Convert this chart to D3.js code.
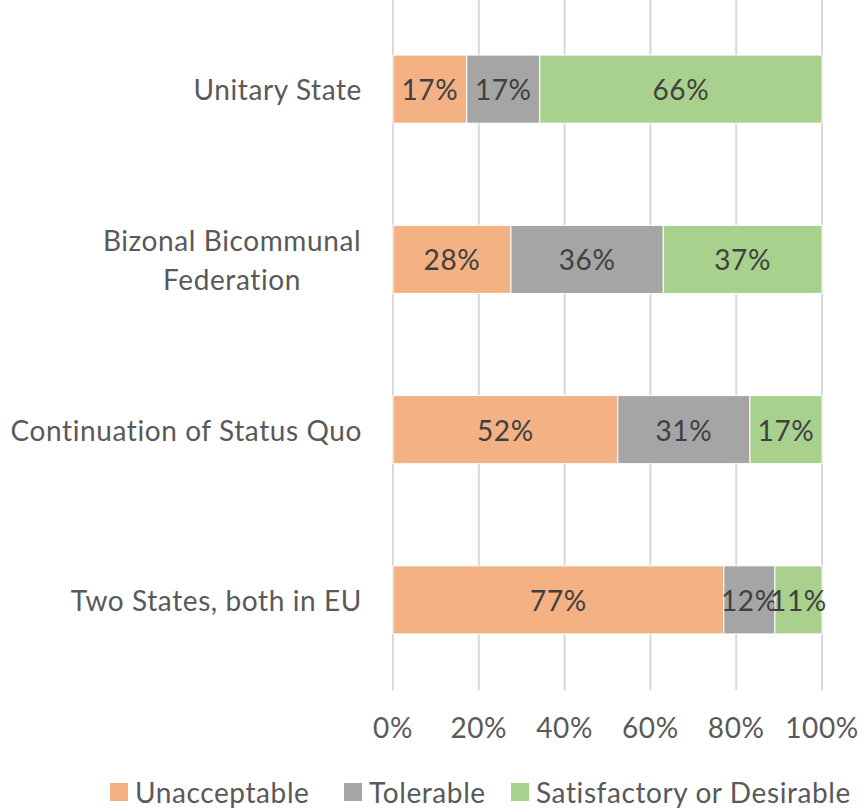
<!DOCTYPE html>
<html><head><meta charset="utf-8">
<script src="https://cdn.jsdelivr.net/npm/d3@7"></script>
<style>body{margin:0;background:#fff}svg{display:block}text{font-family:Lato,"Open Sans",sans-serif;letter-spacing:0.6px}</style>
</head><body>
<svg id="c" width="862" height="808"></svg>
<script>
const categories = ["Unitary State", "Bizonal Bicommunal Federation", "Continuation of Status Quo", "Two States, both in EU"];
const categoryLines = [["Unitary State"], ["Bizonal Bicommunal", "Federation"], ["Continuation of Status Quo"], ["Two States, both in EU"]];
const seriesNames = ["Unacceptable", "Tolerable", "Satisfactory or Desirable"];
const unacceptable = [17.2, 27.5, 52.4, 77.2];
const tolerable = [17.0, 35.5, 30.8, 11.9];
const satisfactory = [65.8, 37.0, 16.8, 11.0];
const labelsUnacceptable = ["17%", "28%", "52%", "77%"];
const labelsTolerable = ["17%", "36%", "31%", "12%"];
const labelsSatisfactory = ["66%", "37%", "17%", "11%"];
const tickValues = [0, 0.2, 0.4, 0.6, 0.8, 1.0];
const colors = ["#F4B183", "#A5A5A5", "#A9D18E"];

const svg = d3.select("#c");
const m = {left: 393, right: 40, top: 4, bottom: 123};
const W = 862, H = 808;
const FS = 28;
const x = d3.scaleLinear().domain([0, 1]).range([m.left, W - m.right]);
const y = d3.scaleBand().domain(categories).range([m.top, H - m.bottom]).paddingInner(0.6).paddingOuter(0.3);

const rows = categories.map((c, i) => ({cat: c, Unacceptable: unacceptable[i], Tolerable: tolerable[i], "Satisfactory or Desirable": satisfactory[i]}));
const labels = [labelsUnacceptable, labelsTolerable, labelsSatisfactory];
const stack = d3.stack().keys(seriesNames).offset(d3.stackOffsetExpand);
const series = stack(rows);

// gridlines
svg.append("g").selectAll("line").data(tickValues).join("line")
  .attr("x1", d => x(d)).attr("x2", d => x(d))
  .attr("y1", 0).attr("y2", H - m.bottom + 5)
  .attr("stroke", "#d9d9d9").attr("stroke-width", 2);

// bars
const g = svg.append("g");
series.forEach((s, si) => {
  g.append("g").selectAll("rect").data(s).join("rect")
    .attr("x", d => x(d[0])).attr("width", d => x(d[1]) - x(d[0]))
    .attr("y", d => y(d.data.cat)).attr("height", y.bandwidth())
    .attr("fill", colors[si]).attr("stroke", "#fff").attr("stroke-width", 1);
  g.append("g").selectAll("text").data(s).join("text")
    .attr("x", d => (x(d[0]) + x(d[1])) / 2)
    .attr("y", d => y(d.data.cat) + y.bandwidth() / 2)
    .attr("text-anchor", "middle").attr("dominant-baseline", "central")
    .attr("font-size", FS).attr("fill", "#404040")
    .text((d, i) => labels[si][i]);
});

// category labels
categories.forEach((c, i) => {
  const lines = categoryLines[i];
  const lh = 39;
  const cy = y(c) + y.bandwidth() / 2;
  const t = svg.append("text").attr("font-size", FS).attr("fill", "#595959");
  lines.forEach((ln, j) => {
    t.append("tspan").attr("x", lines.length > 1 ? 232 : 362).attr("text-anchor", lines.length > 1 ? "middle" : "end")
      .attr("y", cy + (j - (lines.length - 1) / 2) * lh).attr("dominant-baseline", "central").text(ln);
  });
});

// x axis labels
svg.append("g").selectAll("text").data(tickValues).join("text")
  .attr("x", d => x(d)).attr("y", 727).attr("text-anchor", "middle").attr("dominant-baseline", "central")
  .attr("font-size", FS).attr("fill", "#595959").text(d => d3.format(".0%")(d));

// legend
const legX = [110, 344, 511];
const lg = svg.append("g");
seriesNames.forEach((n, i) => {
  lg.append("rect").attr("x", legX[i]).attr("y", 783).attr("width", 18).attr("height", 18).attr("fill", colors[i]);
  lg.append("text").attr("x", legX[i] + 25).attr("y", 792).attr("dominant-baseline", "central")
    .attr("font-size", FS).attr("fill", "#595959").text(n);
});
</script>
</body></html>
